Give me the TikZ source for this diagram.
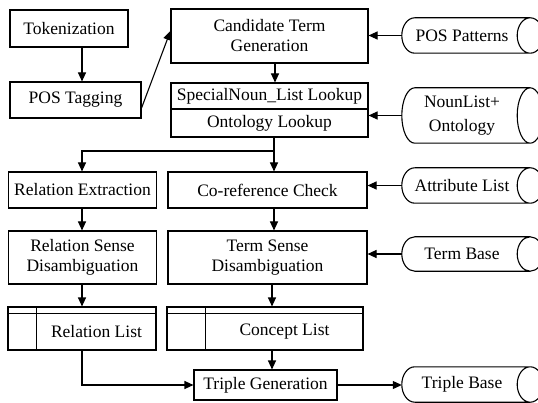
\documentclass[tikz,border=0pt]{standalone}
\usepackage{fontspec}
\setmainfont{Liberation Serif}
\usetikzlibrary{arrows.meta,calc}

% outline of a stored-data drum: rounded left end, full elliptic cap on the right
\newcommand\drumshape[1]{%
  \draw[boxline] let \p1=(#1.north west), \p2=(#1.south east) in
    (\x1+13pt,\y1) arc[start angle=90, end angle=270, x radius=13pt, y radius={0.5*(\y1-\y2)}]
    -- (\x2+8pt,\y2) arc[start angle=-90, end angle=90, x radius=13pt, y radius={0.5*(\y1-\y2)}]
    -- cycle
    (\x2+8pt,\y1) arc[start angle=90, end angle=270, x radius=13pt, y radius={0.5*(\y1-\y2)}];
}

% list box: top strip and left column
\newcommand\listlines[2]{%
  \draw[boxline] ($(#1.north west)+(0,-7)$) -- ($(#1.north east)+(0,-7)$);
  \draw[boxline] ($(#1.north west)+(#2,0)$) -- ($(#1.south west)+(#2,0)$);
}

\tikzset{
  every node/.style={font=\fontsize{17.5}{20}\selectfont, inner sep=0pt, align=center},
  boxline/.style={line width=1.1pt, draw=black},
  proc/.style={draw, line width=1.1pt},
  drumnode/.style={minimum width=120pt},
  arr/.style={line width=1.1pt, -{Triangle[length=9pt,width=8pt]}},
}

\begin{document}
\begin{tikzpicture}[x=1pt, y=1pt]
  \useasboundingbox (0,0) rectangle (538,402);
  \clip (0,0) rectangle (538,402);
  \fill[white] (0,0) rectangle (538,402);

  % column guides for the vertical connectors
  \coordinate (colA) at (82,0);
  \coordinate (colB) at (274,0);
  \coordinate (colD) at (275,0);
  \coordinate (colC) at (272,0);

  % processing steps
  \node[proc, minimum width=118pt, minimum height=37pt] (tok) at (69,373.5) {Tokenization};
  \node[proc, minimum width=131pt, minimum height=36pt] (pos) at (75.5,302) {POS Tagging};
  \node[proc, minimum width=197pt, minimum height=54pt] (cand) at (269.5,366) {Candidate Term\\Generation};
  \node[proc, minimum width=197pt, minimum height=26pt] (spec1) at (269.5,306) {SpecialNoun\_List Lookup};
  \node[proc, minimum width=197pt, minimum height=28pt] (spec2) at (269.5,279) {Ontology Lookup};
  \node[proc, minimum width=148pt, minimum height=36pt] (relx) at (82.5,212) {Relation Extraction};
  \node[proc, minimum width=199pt, minimum height=36pt] (coref) at (267.5,212) {Co-reference Check};
  \node[proc, minimum width=148pt, minimum height=53pt] (rsd) at (82.5,144.5) {Relation Sense\\Disambiguation};
  \node[proc, minimum width=199pt, minimum height=53pt] (tsd) at (267.5,144.5) {Term Sense\\Disambiguation};
  \node[proc, minimum width=143pt, minimum height=30pt] (tg) at (265.5,17) {Triple Generation};

  % lists
  \node[proc, minimum width=148pt, minimum height=43pt] (rl) at (82,73.5) {};
  \listlines{rl}{29}
  \node (rltext) at (96.5,70) {Relation List};
  \node[proc, minimum width=196pt, minimum height=43pt] (cl) at (265,73.5) {};
  \listlines{cl}{39}
  \node (cltext) at (284.5,70) {Concept List};

  % data stores
  \node[drumnode, minimum height=35pt] (pp) at (462,366.5) {POS Patterns};
  \drumshape{pp}
  \node[drumnode, minimum height=55pt] (nl) at (462,286.5) {NounList+\\[4pt]Ontology};
  \drumshape{nl}
  \node[drumnode, minimum height=35pt] (attr) at (462,216.5) {Attribute List};
  \drumshape{attr}
  \node[drumnode, minimum height=34pt] (tb) at (462,148) {Term Base};
  \drumshape{tb}
  \node[drumnode, minimum height=35pt] (tbase) at (462,17.5) {Triple Base};
  \drumshape{tbase}

  % connectors
  \draw[arr] (tok.south -| colA) -- (pos.north -| colA);
  \draw[arr] ([yshift=-8pt]pos.east) -- ([yshift=5pt]cand.west);
  \draw[arr] (cand.south -| colD) -- (spec1.north -| colD);
  \draw[arr] (pp.west) -- (pp.west -| cand.east);
  \draw[arr] (nl.west) -- (nl.west -| spec2.east);
  \coordinate (split) at (274,251);
  \draw[arr] (spec2.south -| colB) -- (coref.north -| colB);
  \draw[arr] (split) -| (relx.north -| colA);
  \draw[arr] (attr.west) -- (attr.west -| coref.east);
  \draw[arr] (relx.south -| colA) -- (rsd.north -| colA);
  \draw[arr] (coref.south -| colB) -- (tsd.north -| colB);
  \draw[arr] (tb.west) -- (tb.west -| tsd.east);
  \draw[arr] (rsd.south -| colA) -- (rl.north -| colA);
  \draw[arr] (tsd.south -| colC) -- (cl.north -| colC);
  \draw[arr] (cl.south -| colC) -- (tg.north -| colC);
  \draw[arr] (rl.south -| colA) |- (tg.west);
  \draw[arr] (tg.east) -- (tg.east -| tbase.west);
\end{tikzpicture}
\end{document}
